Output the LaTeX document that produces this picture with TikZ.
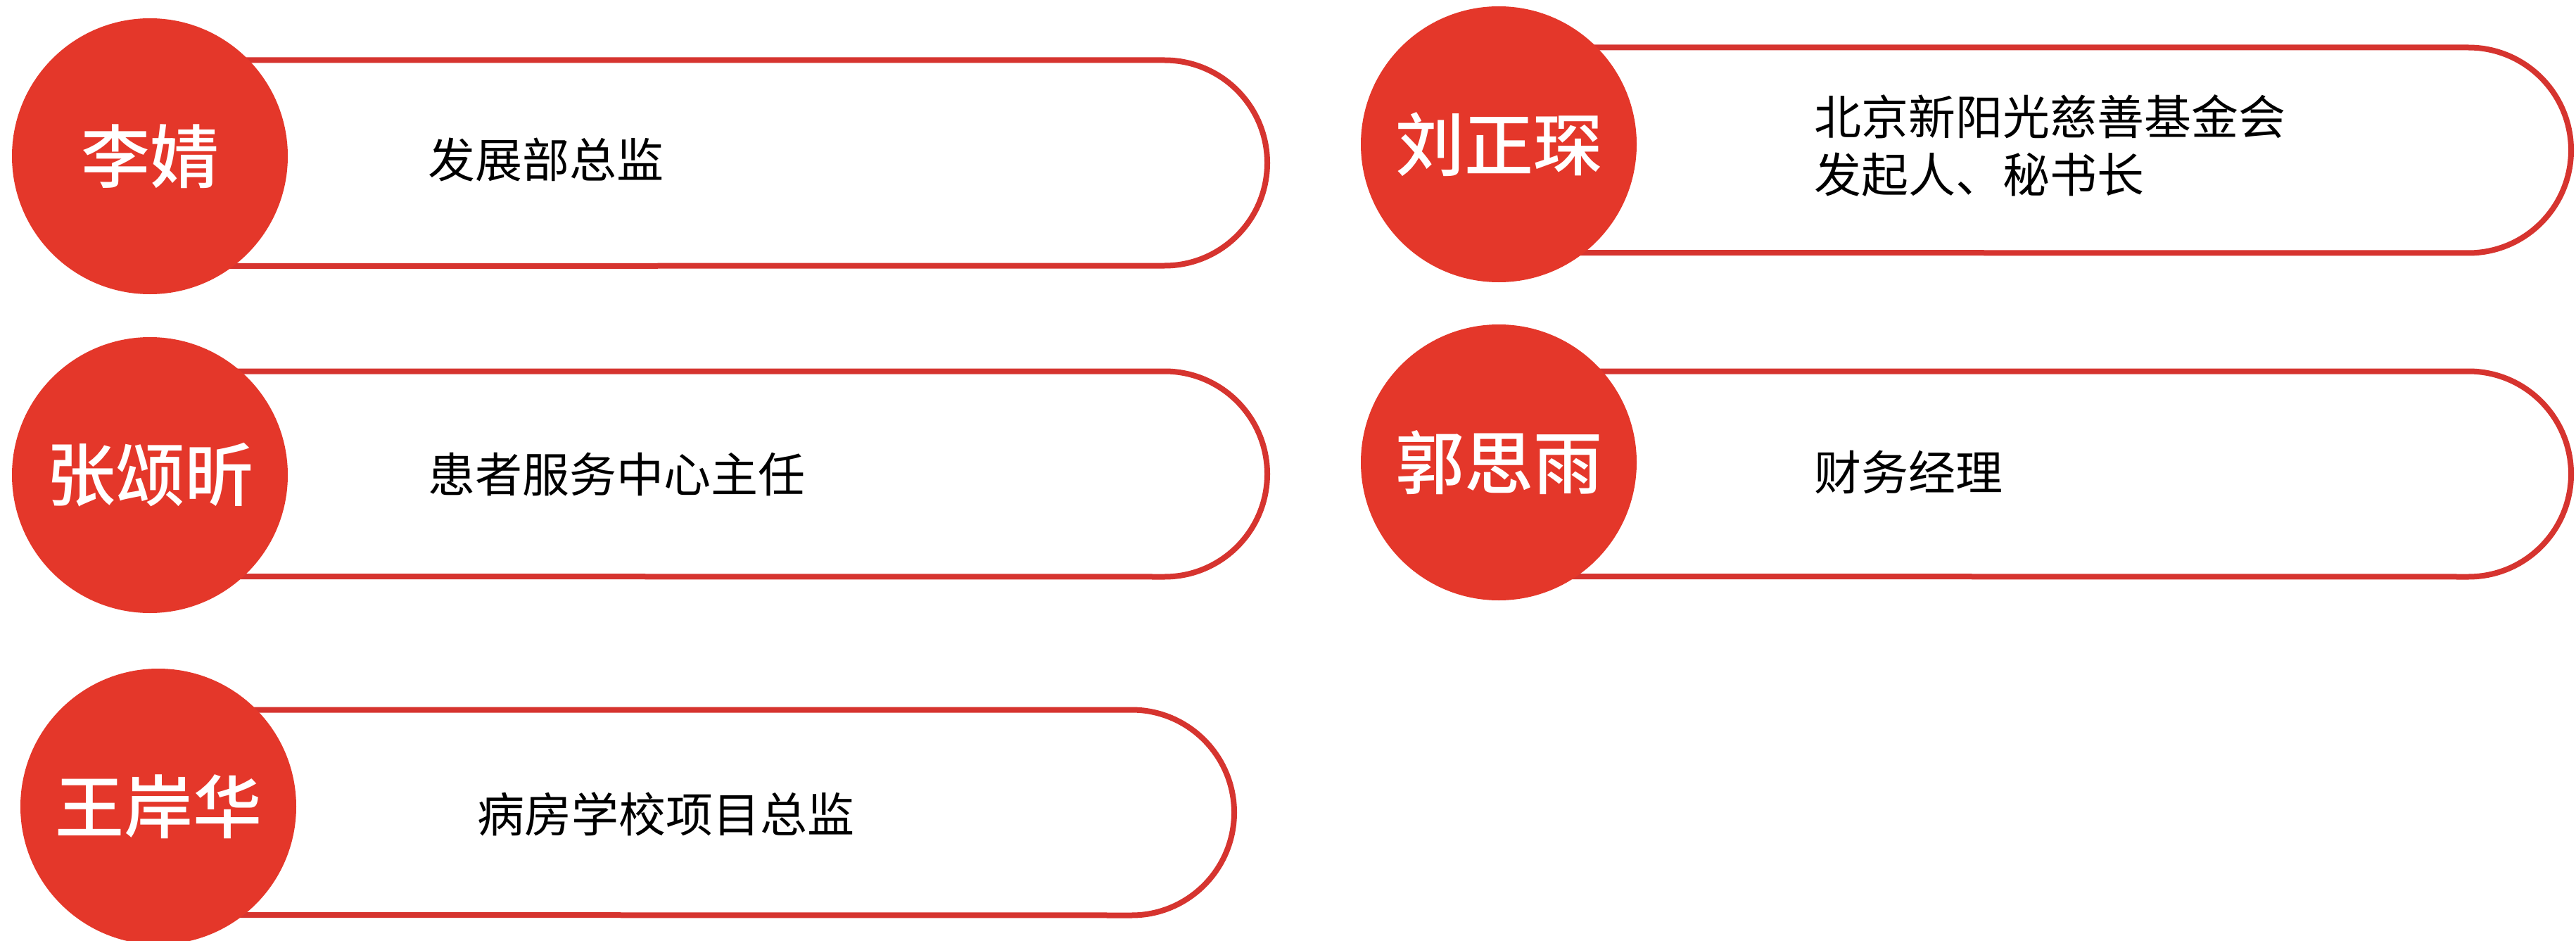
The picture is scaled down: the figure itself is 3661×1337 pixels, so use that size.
\documentclass[tikz,border=0pt]{standalone}
\usepackage{fontspec}
\newfontfamily\cjk{Noto Sans CJK SC}
\newfontfamily\cjkmed{Noto Sans CJK SC}[UprightFont={* Medium}]
\definecolor{circred}{HTML}{E4372A}
\definecolor{linered}{HTML}{D6342F}
\tikzset{
  namecircle/.style={circle, fill=circred, draw=none, minimum size=392pt, inner sep=0pt,
    text=white, font=\cjkmed\fontsize{98}{110}\selectfont},
  desc/.style={anchor=west, inner sep=0pt, text=black, align=left,
    font=\cjk\fontsize{67}{82}\selectfont},
  pill/.style={draw=linered, line width=8pt, fill=white}
}
\newcommand{\pillpath}[4]{% x0, top, bottom, xright
  \path[pill] (#1,#2) -- ({#4-146},#2) arc[start angle=-90, end angle=90, radius=146] -- (#1,#3) -- cycle;
}
\begin{document}
\begin{tikzpicture}[x=1pt,y=-1pt]
\useasboundingbox[fill=white] (0,0) rectangle (3661,1337);
% pills
\pillpath{214}{85.5}{378}{1801}
\pillpath{214}{527.5}{819}{1801}
\pillpath{226}{1008.5}{1300}{1754}
\pillpath{2130}{67.5}{359}{3654}
\pillpath{2130}{527.5}{819}{3654}
% circles with names
\node[namecircle] (n1) at (213,222) {李婧};
\node[namecircle] (n2) at (213,675) {张颂昕};
\node[namecircle] (n3) at (225,1146) {王岸华};
\node[namecircle] (n4) at (2130,205) {刘正琛};
\node[namecircle] (n5) at (2130,657) {郭思雨};
% descriptions
\node[desc] (d1) at (608,227) {发展部总监};
\node[desc] (d2) at (608,674) {患者服务中心主任};
\node[desc] (d3) at (678,1157) {病房学校项目总监};
\node[desc] (d4) at (2578,207) {北京新阳光慈善基金会\\发起人、秘书长};
\node[desc] (d5) at (2578,671) {财务经理};
\end{tikzpicture}
\end{document}
